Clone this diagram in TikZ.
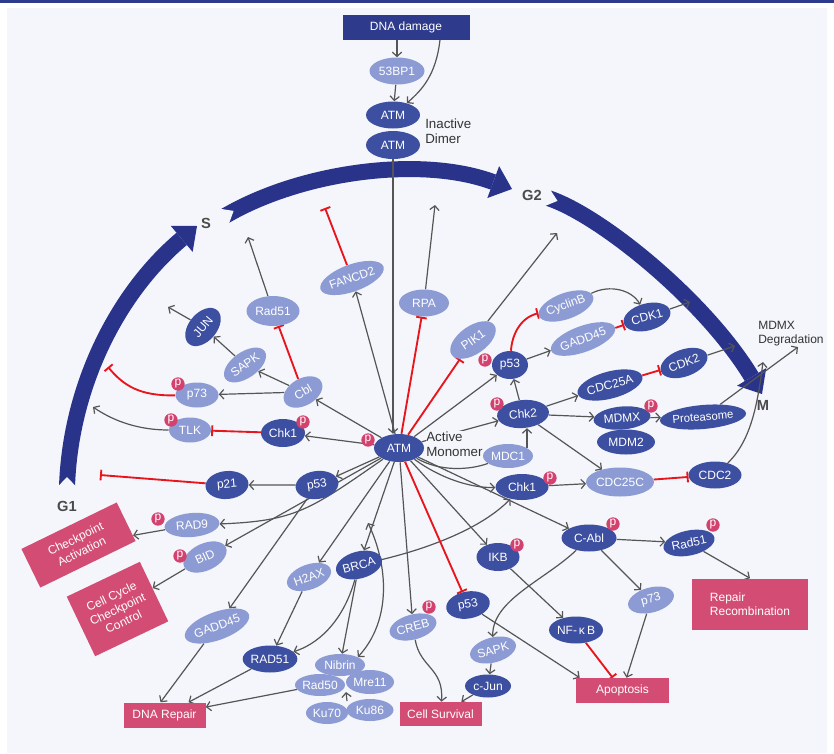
\documentclass[tikz,border=0pt]{standalone}
\usepackage{fontspec}
\setmainfont{Liberation Sans}
\usetikzlibrary{shapes.geometric,arrows.meta,calc}
\definecolor{dkb}{HTML}{3C4FA0}
\definecolor{ltb}{HTML}{8C9BD3}
\definecolor{cyc}{HTML}{29338A}
\definecolor{navy}{HTML}{2E3A8C}
\definecolor{pinkbox}{HTML}{D24C73}
\definecolor{pcol}{HTML}{D3426F}
\definecolor{inhred}{HTML}{E8161C}
\definecolor{gry}{HTML}{555555}
\definecolor{bgc}{HTML}{F4F6FB}
\definecolor{txt}{HTML}{333333}
\definecolor{lbl}{HTML}{4A4A4A}
\pgfdeclarelayer{back}
\pgfdeclarelayer{links}
\pgfsetlayers{back,links,main}
\tikzset{
 sz/.style 2 args={minimum width=#1*0.75pt, minimum height=#2*0.75pt},
 dk/.style={ellipse, fill=dkb, text=white, inner sep=0pt, font=\fontsize{9}{10}\selectfont},
 lt/.style={ellipse, fill=ltb, text=white, inner sep=0pt, font=\fontsize{9}{10}\selectfont},
 pp/.style={circle, fill=pcol, text=white, inner sep=0pt, minimum size=10pt, font=\fontsize{9}{9}\selectfont},
 pbox/.style={rectangle, fill=pinkbox, text=white, inner sep=0pt, align=center, font=\fontsize{9}{10.5}\selectfont},
 nbox/.style={rectangle, fill=navy, text=white, inner sep=0pt, font=\fontsize{9}{10}\selectfont},
 arr/.style={draw=gry, line width=0.9pt, -{Straight Barb[length=3.2pt,width=7pt]}},
 darr/.style={draw=gry, line width=0.9pt, {Straight Barb[length=3.2pt,width=7pt]}-{Straight Barb[length=3.2pt,width=7pt]}},
 ln/.style={draw=gry, line width=0.9pt},
 inh/.style={draw=inhred, line width=1.4pt, -{Bar[width=8pt]}},
 band/.style={draw=cyc, line width=12pt, -{Triangle[width=25.5pt,length=15pt,line width=0pt]}},
 cyl/.style={font=\fontsize{11}{11}\selectfont\bfseries, text=lbl, inner sep=0pt},
 note/.style={align=left, inner sep=0pt, text=txt, font=\fontsize{10}{11.5}\selectfont},
}
\begin{document}
\begin{tikzpicture}[x=0.75pt,y=-0.75pt]
\useasboundingbox (0,0) rectangle (834,753);
\begin{pgfonlayer}{back}
\fill[white] (0,0) rectangle (834,753);
\fill[bgc] (7,8) rectangle (827,753);
\fill[navy] (0,0) rectangle (834,3);
\draw[band] (67,487) .. controls (70,390) and (115,295) .. (197,226);
\draw[band] (225,216) .. controls (300,172) and (420,155) .. (512,189);
\draw[band] (548,198) .. controls (600,215) and (705,300) .. (762,394);
\fill[bgc] (56,488.5) -- (78,488.5) -- (67,477) -- cycle;
\fill[bgc] (228.5,225) -- (218.9,208.6) -- (233.6,210.9) -- cycle;
\fill[bgc] (543.7,206.5) -- (549.5,188.5) -- (557.5,200.9) -- cycle;
\end{pgfonlayer}

% cycle labels
\node[cyl] (lS) at (206,223) {S};
\node[cyl] (lG2) at (532,195) {G2};
\node[cyl] (lM) at (763,405) {M};
\node[cyl] (lG1) at (67,506) {G1};

% top
\node[nbox,sz={127}{25}] (dnad) at (406,27) {DNA damage};
\node[lt,sz={55}{27}] (bp) at (397,71) {53BP1};
\node[dk,sz={54}{27}] (atmA) at (393,115) {ATM};
\node[dk,sz={54}{28}] (atmB) at (393,145) {ATM};
\node[note,anchor=west] (inact) at (425,131) {Inactive\\Dimer};
\node[dk,sz={50}{28}] (atm) at (399,448) {ATM};
\node[note,anchor=west,fill=bgc] (actm) at (426,444) {Active\\Monomer};

% left cluster
\node[lt,sz={53}{30}] (rad51a) at (273,311) {Rad51};
\node[lt,sz={62}{27},rotate=20] (fancd2) at (352,278) {FANCD2};
\node[lt,sz={50}{27}] (rpa) at (424,303) {RPA};
\node[dk,sz={44}{28},rotate=50] (jun) at (203,327) {JUN};
\node[lt,sz={48}{26},rotate=35] (sapk) at (245,365) {SAPK};
\node[lt,sz={42}{27},rotate=30] (cbl) at (303,392) {Cbl};
\node[lt,sz={43}{25}] (p73a) at (197,395) {p73};
\node[lt,sz={42}{25}] (tlk) at (190,430) {TLK};
\node[dk,sz={44}{28}] (chk1a) at (283,433) {Chk1};
\node[dk,sz={43}{28},rotate=8] (p53a) at (317,485) {p53};
\node[dk,sz={43}{28},rotate=5] (p21) at (227,485) {p21};
\node[lt,sz={55}{24},rotate=5] (rad9) at (192,525) {RAD9};
\node[lt,sz={46}{27},rotate=25] (bid) at (205,557) {BID};
\node[lt,sz={58}{28},rotate=20] (gadd45a) at (217,626) {GADD45};
\node[lt,sz={46}{25},rotate=20] (h2ax) at (309,577) {H2AX};
\node[dk,sz={45}{27},rotate=15] (brca) at (359,565) {BRCA};
\node[dk,sz={46}{27}] (rad51b) at (270,659) {RAD51};
\node[lt,sz={50}{22}] (nibrin) at (340,665) {Nibrin};
\node[lt,sz={47}{22}] (rad50) at (320,685) {Rad50};
\node[lt,sz={48}{24}] (mre11) at (370,682) {Mre11};
\node[lt,sz={42}{22}] (ku70) at (327,713) {Ku70};
\node[lt,sz={47}{22}] (ku86) at (370,710) {Ku86};
\node[lt,sz={48}{25},rotate=15] (creb) at (413,627) {CREB};
\node[dk,sz={44}{27},rotate=10] (p53c) at (468,605) {p53};
\node[dk,sz={43}{28}] (ikb) at (498,557) {IKB};
\node[lt,sz={47}{25},rotate=15] (sapkb) at (493,650) {SAPK};
\node[dk,sz={46}{23}] (cjun) at (488,686) {c-Jun};
\node[dk,sz={54}{27}] (nfkb) at (576,630) {NF-\,κ\,B};
\node[lt,sz={47}{25},rotate=15] (p73b) at (651,600) {p73};
\node[dk,sz={55}{27}] (cabl) at (589,538) {C-Abl};
\node[dk,sz={52}{25},rotate=12] (rad51c) at (689,543) {Rad51};

% right cluster
\node[lt,sz={52}{28},rotate=35] (pik1) at (473,340) {PIK1};
\node[dk,sz={36}{28}] (p53b) at (510,365) {p53};
\node[lt,sz={53}{26},rotate=20] (cyclinb) at (566,306) {CyclinB};
\node[lt,sz={53}{26},rotate=20] (gadd45b) at (583,339) {GADD45};
\node[dk,sz={48}{27},rotate=15] (cdk1) at (647,317) {CDK1};
\node[dk,sz={52}{28},rotate=5] (chk2) at (523,414) {Chk2};
\node[lt,sz={50}{24}] (mdc1) at (508,456) {MDC1};
\node[dk,sz={53}{26}] (chk1b) at (522,487) {Chk1};
\node[dk,sz={62}{27},rotate=15] (cdc25a) at (610,385) {CDC25A};
\node[dk,sz={49}{27},rotate=20] (cdk2) at (684,363) {CDK2};
\node[dk,sz={58}{25}] (mdm2) at (626,442) {MDM2};
\node[dk,sz={57}{23},rotate=5] (mdmx) at (622,418) {MDMX};
\node[dk,sz={76}{24},rotate=5,font=\fontsize{8.5}{10}\selectfont] (prot) at (703,417) {Proteasome};
\node[lt,sz={65}{29}] (cdc25c) at (620,482) {CDC25C};
\node[dk,sz={53}{27}] (cdc2) at (715,475) {CDC2};
\node[anchor=west, align=left, inner sep=0pt, text=txt, font=\fontsize{9}{10.5}\selectfont] (mdeg) at (758,334) {MDMX\\Degradation};

% outcome boxes
\node[pbox,sz={106}{43},rotate=26] (ckpt) at (78.5,545) {Checkpoint\\Activation};
\node[pbox,sz={81}{66},rotate=25.5] (cellcyc) at (117.5,609) {Cell Cycle\\Checkpoint\\Control};
\node[pbox,sz={82}{25}] (dnarep) at (164.5,715) {DNA Repair};
\node[pbox,sz={82}{24}] (cellsurv) at (440.5,714) {Cell Survival};
\node[pbox,sz={93}{25}] (apop) at (622.5,690.5) {Apoptosis};
\node[pbox,sz={116}{51},align=left] (reprec) at (750,604) {Repair\\Recombination};

% phosphorylation marks
\node[pp] (pATM) at (368,440) {p};
\node[pp] (pP73) at (178,384) {p};
\node[pp] (pTLK) at (171,420) {p};
\node[pp] (pCHK1a) at (303,422) {p};
\node[pp] (pRAD9) at (158,519) {p};
\node[pp] (pBID) at (180,556) {p};
\node[pp] (pCREB) at (429,607) {p};
\node[pp] (pIKB) at (517,545) {p};
\node[pp] (pCABL) at (613,524) {p};
\node[pp] (pRAD51) at (713,525) {p};
\node[pp] (pP53) at (485,360) {p};
\node[pp] (pCHK2) at (497,404) {p};
\node[pp] (pMDMX) at (651,406) {p};
\node[pp] (pCHK1b) at (550,478) {p};

% free ends
\coordinate (tRad51) at (248,237);
\coordinate (tFANCD2) at (325,208);
\coordinate (tRPA) at (435,205);
\coordinate (tPIK1) at (557,233);
\coordinate (tJUN) at (168,307);
\coordinate (tP73) at (108,367);
\coordinate (tTLK) at (93,407);
\coordinate (tP21) at (100,475);
\coordinate (tCDK1) at (690,302);
\coordinate (tCDK2) at (735,346);
\coordinate (tMDMX) at (798,347);
\coordinate (tCDC2) at (763,362);
\coordinate (tNib) at (368,523);
\coordinate (kuA) at (347,701);
\coordinate (kuB) at (346,692);

\begin{pgfonlayer}{links}
% top
\draw[arr] (dnad.south -| bp.north) -- (bp.north);
\draw[arr] ($(dnad.south)+(34,0)$) .. controls (436,75) and (422,90) .. (atmA);
\draw[arr] (bp) -- (atmA);
\draw[arr] (atmB.south) -- (atmB.south |- atm.north);
% upper left
\draw[arr] (rad51a) -- (tRad51);
\draw[arr] (atm) -- (fancd2);
\draw[arr] (rpa) -- (tRPA);
\draw[arr] (pik1) -- (tPIK1);
\draw[arr] (jun) -- (tJUN);
\draw[arr] (sapk) -- (jun);
\draw[arr] (cbl) -- (sapk);
\draw[arr] (cbl) -- (p73a);
\draw[arr] (atm) -- (cbl);
\draw[arr] (atm) -- (chk1a);
\draw[arr] (tlk) .. controls (140,430) and (115,422) .. (tTLK);
\draw[arr] (atm) -- (p53a);
\draw[arr] (p53a) -- (p21);
\draw[arr] (atm) .. controls (310,510) and (295,521) .. (rad9);
\draw[arr] (atm) -- (bid);
\draw[arr] (rad9) -- (ckpt);
\draw[arr] (bid) -- (cellcyc);
\draw[arr] (p53a) -- (gadd45a);
\draw[arr] (gadd45a) -- ($(dnarep.north)+(-4,0)$);
\draw[arr] (atm) -- (h2ax);
\draw[arr] (h2ax) -- (rad51b);
\draw[arr] (atm) -- (brca);
\draw[arr] (brca) .. controls (342,625) and (315,645) .. (rad51b);
\draw[arr] (brca) -- (nibrin);
\draw[arr] (rad51b) -- (dnarep);
\draw[arr] (rad50) -- (dnarep);
\draw[darr] (tNib) .. controls (388,565) and (392,620) .. (nibrin.north east);
\draw[arr] (kuA) -- (kuB);
\fill[white] (342,673) -- (351,673) -- (347,679) -- cycle;
% lower middle
\draw[arr] (atm) -- (creb);
\draw[arr] (creb) .. controls (420,668) and (444,668) .. (cellsurv);
\draw[arr] (cjun) -- (cellsurv);
\draw[arr] (sapkb) -- (cjun);
\draw[arr] (cabl) .. controls (545,580) and (492,600) .. (sapkb);
\draw[arr] (atm) -- (ikb);
\draw[arr] (ikb) -- (nfkb);
\draw[arr] (p53c) -- ($(apop.north west)+(4,0)$);
\draw[arr] (atm) -- (cabl);
\draw[arr] (cabl) -- (rad51c);
\draw[arr] (rad51c) -- (reprec.north);
\draw[arr] (cabl) -- (p73b);
\draw[arr] (p73b) -- (apop);
% right cluster
\draw[arr] (brca) .. controls (430,548) and (482,528) .. (chk1b);
\draw[arr] (atm) .. controls (440,478) and (470,488) .. (chk1b);
\draw[ln] (atm) .. controls (440,472) and (470,470) .. (mdc1);
\draw[arr] (atm) -- (chk2);
\draw[arr] (atm) -- (p53b);
\draw[arr] (mdc1.23) -- (mdc1.23 |- chk2.south);
\draw[arr] (chk2) -- (p53b);
\draw[arr] (p53b) -- (gadd45b);
\draw[arr] (cyclinb) .. controls (610,284) and (632,290) .. (cdk1);
\draw[arr] (cdk1) -- (tCDK1);
\draw[arr] (chk2) -- (cdc25a);
\draw[arr] (cdk2) -- (tCDK2);
\draw[arr] (chk2) -- (mdmx);
\draw[arr] (chk2) -- (cdc25c);
\draw[arr] (mdmx) -- (prot);
\draw[arr] (prot) -- (tMDMX);
\draw[arr] (chk1b) -- (cdc25c);
\draw[arr] (cdc2) .. controls (752,440) and (758,400) .. (tCDC2);
% inhibitions
\draw[inh] (fancd2) -- (tFANCD2);
\draw[inh] (atm) -- (rpa);
\draw[inh] (atm) -- (pik1);
\draw[inh] (cbl) -- (rad51a);
\draw[inh] (p73a) .. controls (140,396) and (124,386) .. (tP73);
\draw[inh] (chk1a) -- (tlk);
\draw[inh] (p21) -- (tP21);
\draw[inh] (atm) -- (p53c);
\draw[inh] (nfkb) -- (apop);
\draw[inh] (p53b) .. controls (512,335) and (520,318) .. (cyclinb);
\draw[inh] (gadd45b) -- (cdk1);
\draw[inh] (cdc25a) -- (cdk2);
\draw[inh] (cdc25c) -- (cdc2);
\end{pgfonlayer}
\end{tikzpicture}
\end{document}
